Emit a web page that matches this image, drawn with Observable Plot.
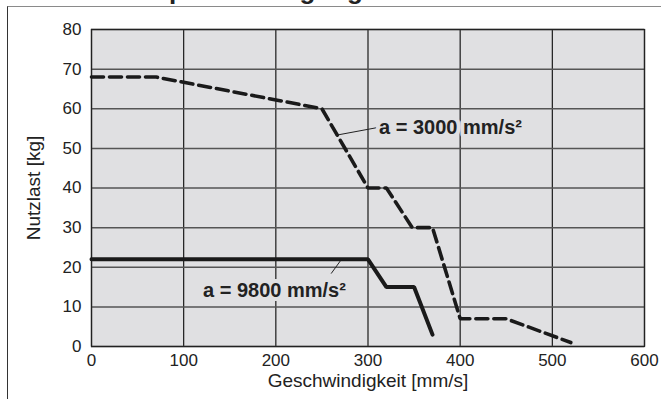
<!DOCTYPE html>
<html>
<head>
<meta charset="utf-8">
<script src="https://cdn.jsdelivr.net/npm/d3@7"></script>
<script src="https://cdn.jsdelivr.net/npm/@observablehq/plot@0.6"></script>
<style>
  html, body { margin: 0; padding: 0; background: #fff; }
  #wrap { position: relative; width: 661px; height: 399px; overflow: hidden; font-family: "Liberation Sans", Arial, sans-serif; }
  #box { position: absolute; left: 7px; top: 6px; right: -2px; bottom: -2px; border-left: 1.3px solid #333; border-top: 1.5px solid #8a8a8a; }
  #title { position: absolute; left: 0; top: 0; overflow: hidden; }
  #chart { position: absolute; left: 0; top: 0; }
</style>
</head>
<body>
<div id="wrap">
  <div id="box"></div>
  <svg id="title" width="661" height="6" viewBox="0 0 661 6"><text x="114" y="-1" font-family="Liberation Sans, Arial, sans-serif" font-weight="bold" font-size="26" fill="#222">Beispiel: Auslegung</text></svg>
  <div id="chart"></div>
</div>
<script>
// Ticks
const xTicks = [0, 100, 200, 300, 400, 500, 600];
const yTicks = [0, 10, 20, 30, 40, 50, 60, 70, 80];

// Series a = 3000 mm/s² (dashed)
const speed3000 = [0, 70, 250, 300, 320, 348, 370, 400, 450, 520];
const load3000  = [68, 68, 60, 40, 40, 30, 30, 7, 7, 1];

// Series a = 9800 mm/s² (solid)
const speed9800 = [0, 300, 320, 350, 370];
const load9800  = [22, 22, 15, 15, 3];

// Annotation labels (data units) and leader lines
const labelText = ["a = 3000 mm/s²", "a = 9800 mm/s²"];
const labelX = [312, 121];
const labelY = [55.3, 14.1];
const leaderX1 = [265, 260];
const leaderY1 = [53.3, 18.4];
const leaderX2 = [309, 270];
const leaderY2 = [55.2, 21.6];

const d3000 = speed3000.map((s, i) => ({x: s, y: load3000[i]}));
const d9800 = speed9800.map((s, i) => ({x: s, y: load9800[i]}));
const labels = labelText.map((t, i) => ({t, x: labelX[i], y: labelY[i]}));
const leaders = leaderX1.map((x1, i) => ({x1, y1: leaderY1[i], x2: leaderX2[i], y2: leaderY2[i]}));

const bg = "#e0e0e2";
const plot = Plot.plot({
  width: 661,
  height: 399,
  marginLeft: 91,
  marginRight: 17,
  marginTop: 29,
  marginBottom: 53,
  style: {background: "transparent", fontFamily: "Liberation Sans, Arial, sans-serif", color: "#222"},
  x: {domain: [0, 600]},
  y: {domain: [0, 80]},
  marks: [
    Plot.frame({fill: bg}),
    Plot.gridX(xTicks, {stroke: "#1a1a1a", strokeOpacity: 1, strokeWidth: 1.2}),
    Plot.gridY(yTicks, {stroke: "#555", strokeOpacity: 1, strokeWidth: 1.5}),
    Plot.frame({stroke: "#222", strokeWidth: 1.3}),
    Plot.line(d3000, {x: "x", y: "y", stroke: "#1a1a1a", strokeWidth: 3.6, strokeDasharray: "12,6", strokeLinejoin: "miter"}),
    Plot.line(d9800, {x: "x", y: "y", stroke: "#1a1a1a", strokeWidth: 4, strokeLinejoin: "miter"}),
    Plot.link(leaders, {x1: "x1", y1: "y1", x2: "x2", y2: "y2", stroke: "#222", strokeWidth: 1}),
    Plot.text(labels, {x: "x", y: "y", text: "t", textAnchor: "start", lineAnchor: "middle", fontSize: 20, fontWeight: "bold", fill: "#222", stroke: bg, strokeWidth: 8}),
    Plot.axisX(xTicks, {tickSize: 0, tickPadding: 7, fontSize: 17, label: null}),
    Plot.axisY(yTicks, {tickSize: 0, tickPadding: 10, fontSize: 17, label: null}),
    Plot.axisX([], {tickSize: 0, fontSize: 19, label: "Geschwindigkeit [mm/s]", labelAnchor: "center", labelOffset: 40, labelArrow: "none", dx: -8}),
    Plot.axisY([], {tickSize: 0, fontSize: 19, label: "Nutzlast [kg]", labelAnchor: "center", labelOffset: 65, labelArrow: "none"})
  ]
});
document.getElementById("chart").appendChild(plot);
</script>
</body>
</html>
